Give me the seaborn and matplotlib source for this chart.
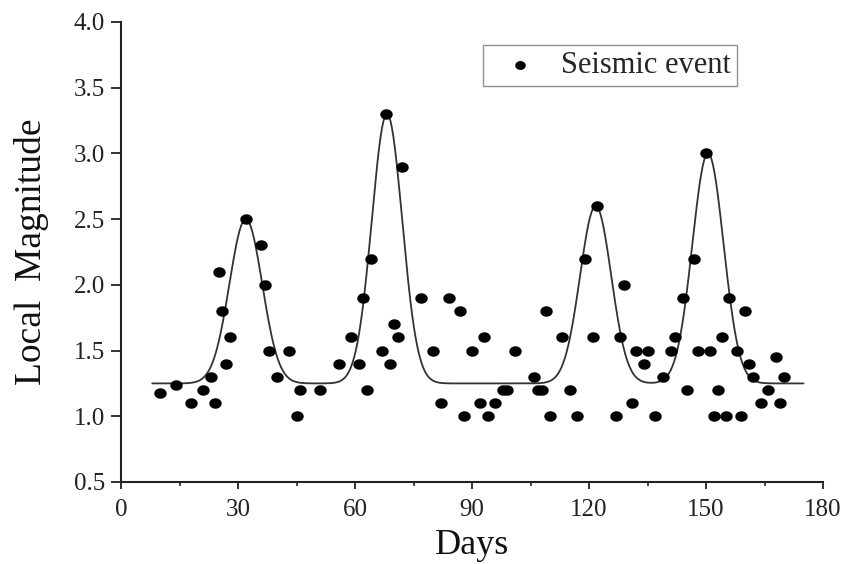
import numpy as np
import pandas as pd
import matplotlib
matplotlib.use("Agg")
import matplotlib.pyplot as plt
from matplotlib.path import Path
from matplotlib.ticker import MultipleLocator
import seaborn as sns

# Daily seismic events: day of occurrence and local magnitude
days = [10, 14, 18, 21, 23, 24, 25, 26, 27, 28, 32, 36, 37, 38, 40, 43, 45, 46,
        51, 56, 59, 61, 62, 63, 64, 67, 68, 69, 70, 71, 72, 77, 80, 82, 84, 87,
        88, 90, 92, 93, 94, 96, 98, 99, 101, 106, 107, 108, 109, 110, 113, 115,
        117, 119, 121, 122, 127, 128, 129, 131, 132, 134, 135, 137, 139, 141,
        142, 144, 145, 147, 148, 150, 151, 152, 153, 154, 155, 156, 158, 159,
        160, 161, 162, 164, 166, 168, 169, 170]
magnitudes = [1.18, 1.24, 1.1, 1.2, 1.3, 1.1, 2.1, 1.8, 1.4, 1.6, 2.5, 2.3, 2.0,
              1.5, 1.3, 1.5, 1.0, 1.2, 1.2, 1.4, 1.6, 1.4, 1.9, 1.2, 2.2, 1.5,
              3.3, 1.4, 1.7, 1.6, 2.9, 1.9, 1.5, 1.1, 1.9, 1.8, 1.0, 1.5, 1.1,
              1.6, 1.0, 1.1, 1.2, 1.2, 1.5, 1.3, 1.2, 1.2, 1.8, 1.0, 1.6, 1.2,
              1.0, 2.2, 1.6, 2.6, 1.0, 1.6, 2.0, 1.1, 1.5, 1.4, 1.5, 1.0, 1.3,
              1.5, 1.6, 1.9, 1.2, 2.2, 1.5, 3.0, 1.5, 1.0, 1.2, 1.6, 1.0, 1.9,
              1.5, 1.0, 1.8, 1.4, 1.3, 1.1, 1.2, 1.45, 1.1, 1.3]

# Multi-peak Gaussian fit: baseline plus one Gaussian per swarm
fit_baseline = 1.25
peak_centers = [32.0, 68.2, 121.7, 150.5]
peak_amplitudes = [1.25, 2.05, 1.35, 1.75]
peak_widths = [4.2, 3.9, 4.0, 4.0]
fit_start, fit_end = 8, 175

x_ticks = [0, 30, 60, 90, 120, 150, 180]
y_ticks = [0.5, 1.0, 1.5, 2.0, 2.5, 3.0, 3.5, 4.0]

events = pd.DataFrame({"Days": days, "Local Magnitude": magnitudes})
fit_x = np.linspace(fit_start, fit_end, 800)
fit_y = np.full_like(fit_x, fit_baseline)
for c, a, w in zip(peak_centers, peak_amplitudes, peak_widths):
    fit_y += a * np.exp(-0.5 * ((fit_x - c) / w) ** 2)
fit = pd.DataFrame({"Days": fit_x, "Local Magnitude": fit_y})

# slightly wide dot marker
theta = np.linspace(0, 2 * np.pi, 60)
dot = Path(np.column_stack([np.cos(theta), 0.84 * np.sin(theta)]), closed=True)

sns.set_theme(style="ticks")
plt.rcParams["font.family"] = ["Liberation Serif", "DejaVu Serif"]

fig = plt.figure(figsize=(8.45, 5.64), dpi=100)
ax = fig.add_axes([0.1432, 0.1454, 0.8308, 0.8156])

sns.lineplot(data=fit, x="Days", y="Local Magnitude", ax=ax, color="#333333",
             linewidth=1.3, legend=False)
sns.scatterplot(data=events, x="Days", y="Local Magnitude", ax=ax, color="black",
                marker=dot, s=80, edgecolor="black", linewidth=0,
                label="Seismic event", zorder=3)

ax.set_xlim(0, 180)
ax.set_ylim(0.5, 4.0)
ax.set_xticks(x_ticks)
ax.set_yticks(y_ticks)
ax.set_xticklabels([str(t) for t in x_ticks])
ax.set_yticklabels([f"{t:.1f}" for t in y_ticks])
ax.xaxis.set_minor_locator(MultipleLocator(15))
ax.tick_params(axis="x", which="major", direction="out", length=5, width=1.3,
               labelsize=18, color="#222222", labelcolor="#222222", pad=7)
ax.tick_params(axis="y", which="major", direction="out", length=7.5, width=1.3,
               labelsize=18, color="#222222", labelcolor="#222222", pad=4)
ax.tick_params(axis="x", which="minor", direction="out", length=3, width=1.2,
               color="#222222")
for side in ("top", "right"):
    ax.spines[side].set_visible(False)
for side in ("left", "bottom"):
    ax.spines[side].set_linewidth(1.5)
    ax.spines[side].set_color("#222222")

ax.set_xlabel("Days", fontsize=26, labelpad=6, color="#111111")
ax.set_ylabel("Local  Magnitude", fontsize=27, labelpad=18, color="#111111")

leg = ax.legend(loc="upper left", bbox_to_anchor=(0.516, 0.95), borderaxespad=0,
                frameon=True, fancybox=False, fontsize=22, handletextpad=0.35,
                borderpad=0.2, markerscale=0.85, handlelength=2.0)
leg.get_frame().set_edgecolor("#777777")
leg.get_frame().set_linewidth(1.0)

fig.savefig("out.png", dpi=100)
